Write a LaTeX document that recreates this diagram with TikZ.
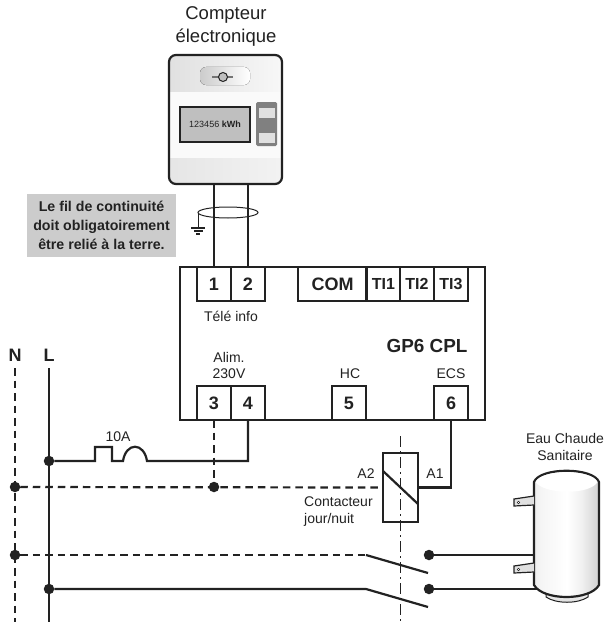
\documentclass[tikz,border=0pt]{standalone}
\usepackage{fontspec}
\setmainfont{Liberation Sans}
\usetikzlibrary{shapes.geometric}
\definecolor{encre}{HTML}{222222}
\pgfdeclarehorizontalshading{ballon}{100bp}{color(0bp)=(black!22); color(30bp)=(black!4); color(50bp)=(white); color(62bp)=(black!6); color(85bp)=(black!28); color(100bp)=(black!55)}
\tikzstyle{fil} = [line width=2.2pt, draw=encre]
\tikzstyle{filpoint} = [fil, dash pattern=on 7.5pt off 5pt]
\tikzstyle{axe} = [line width=1.2pt, draw=encre, dash pattern=on 11pt off 4pt on 2pt off 4pt]
\tikzstyle{borne} = [rectangle, draw=encre, fill=white, line width=2.2pt, minimum width=34pt, minimum height=34pt, inner sep=0pt, outer sep=0pt, text=encre, font=\fontsize{18}{20}\selectfont\bfseries]
\tikzstyle{point} = [circle, fill=encre, minimum size=10.5pt, inner sep=0pt, outer sep=0pt]
\tikzstyle{petit} = [inner sep=0pt, text=encre, align=center, font=\fontsize{14}{17}\selectfont]
\tikzstyle{gras} = [inner sep=0pt, text=encre, font=\fontsize{18}{20}\selectfont\bfseries]
\begin{document}
\begin{tikzpicture}[x=1pt,y=-1pt]%
	\useasboundingbox (0,0) rectangle (606,626);%
	\fill[white] (0,0) rectangle (606,626);%
	\node [inner sep=0pt, text=encre, align=center, font=\fontsize{18.5}{23}\selectfont] (titre) at (226,26) {Compteur\\électronique};%
	% compteur
	\begin{scope}
		\clip[rounded corners=7pt] (169,55) rectangle (282,184);
		\fill[left color=black!12, right color=black!3] (169,55) rectangle (282,92);
		\fill[black!2] (169,92) rectangle (282,158);
		\fill[left color=black!10, right color=black!5] (169,158) rectangle (282,184);
	\end{scope}
	\node [rectangle, rounded corners=7pt, draw=encre, line width=2.2pt, minimum width=113pt, minimum height=129pt, outer sep=0pt] (compteur) at (225.5,119.5) {};%
	\fill[rounded corners=6pt, left color=black!20, right color=white] (200,67) rectangle (250,85);%
	\draw[line width=2.4pt, black!55] (212,77) -- (233,77);%
	\node [circle, draw=encre, fill=black!25, line width=1pt, minimum size=9pt, inner sep=0pt] (vis) at (223,77) {};%
	\node [rectangle, draw=encre, fill=black!25, line width=1.2pt, minimum width=70pt, minimum height=35pt, outer sep=0pt, inner sep=0pt, font=\fontsize{9}{10}\selectfont, text=encre] (ecran) at (215,124.5) {123456 \textbf{kWh}};%
	\fill[rounded corners=1.5pt, black!50] (256,102) rectangle (277,146);%
	\fill[black!12] (259,108) rectangle (275,118);%
	\fill[black!12] (259,133) rectangle (275,143);%
	% module
	\node [rectangle, draw=encre, line width=2.2pt, minimum width=305pt, minimum height=153pt, outer sep=0pt] (gp6) at (332.5,343.5) {};%
	\foreach \nom/\x/\y in {1/214/284, 2/248/284, 3/214/403, 4/248/403, 5/349/403, 6/451/403}
		\node [borne] (b\nom) at (\x,\y) {\nom};%
	\node [borne, minimum width=69pt] (com) at (332.5,284) {COM};%
	\foreach \nom/\x in {1/383.5, 2/417, 3/451}
		\node [borne, font=\fontsize{16}{18}\selectfont\bfseries] (ti\nom) at (\x,284) {TI\nom};%
	\node [petit] (teleinfo) at (231,316) {Télé info};%
	\node [petit, font=\fontsize{14}{16}\selectfont] (alim) at (229,365.5) {Alim.\\230V};%
	\node [petit] (hc) at (350,374) {HC};%
	\node [petit] (ecs) at (451,374) {ECS};%
	\node [gras, font=\fontsize{18.9}{21}\selectfont\bfseries] (nomgp) at (427,346) {GP6 CPL};%
	% fils du compteur
	\draw[fil] (b1.north |- compteur.south) -- (b1.north);%
	\draw[fil] (b2.north |- compteur.south) -- (b2.north);%
	\node [ellipse, draw=encre, line width=1pt, minimum width=60pt, minimum height=11pt, inner sep=0pt, outer sep=0pt] (blindage) at (228,212.5) {};%
	\coordinate (terre) at (198,228);%
	\draw[line width=1pt, encre] (blindage.west) -- (terre);%
	\draw[line width=1.1pt, encre] (191,228) -- (205,228) (194,231) -- (203,231) (196,234) -- (200,234);%
	\node [rectangle, fill=black!20, minimum width=149pt, minimum height=63pt, inner sep=0pt, align=center, text=encre, font=\fontsize{14.2}{19}\selectfont\bfseries] (note) at (101.5,225.5) {Le fil de continuité\\doit obligatoirement\\être relié à la terre.};%
	% reseau
	\node [gras] (labN) at (15,355) {N};%
	\node [gras] (labL) at (49,355) {L};%
	\coordinate (hautN) at (15,368);%
	\coordinate (hautL) at (49,368);%
	\coordinate (basN) at (15,622);%
	\coordinate (basL) at (49,622);%
	\draw[filpoint] (hautN) -- (basN);%
	\draw[fil] (hautL) -- (basL);%
	\node [point] (dL1) at (49,461) {};%
	\node [point] (dN1) at (15,487) {};%
	\node [point] (d3) at (214,487) {};%
	\node [point] (dN2) at (15,555) {};%
	\node [point] (dL2) at (49,589) {};%
	\node [point] (c1) at (429,555) {};%
	\node [point] (c2) at (429,589) {};%
	% fusible
	\draw[fil] (dL1) -- (95,461) -- (95,447) -- (112,447) -- (112,461) -- (123,461) .. controls (126,442) and (144,442) .. (147,461) -- (b4.south |- dL1) -- (b4.south);%
	\node [petit] (fus) at (118,437) {10A};%
	\draw[filpoint] (b3.south) -- (d3);%
	% contacteur
	\draw[axe] (400.5,436) -- (400.5,623);%
	\node [rectangle, draw=encre, line width=2.2pt, minimum width=35pt, minimum height=69pt, outer sep=0pt] (bobine) at (400.5,487.5) {};%
	\draw[fil] (383,471) -- (418,504);%
	\draw[filpoint] (dN1) -- (bobine.west);%
	\draw[fil] (b6.south) |- (bobine.east);%
	\node [petit] (a2) at (366,474) {A2};%
	\node [petit] (a1) at (435,474) {A1};%
	\node [petit, align=left, anchor=west] (contacteur) at (304,511.5) {Contacteur\\jour/nuit};%
	\draw[filpoint] (dN2) -- (366,555);%
	\draw[fil] (366,555) -- (428,573);%
	\draw[fil] (dL2) -- (366,589) -- (428,607);%
	% ballon
	\node [petit] (ecsballon) at (565,447) {Eau Chaude\\Sanitaire};%
	\draw[fil] (c1) -- (534,555);%
	\draw[fil] (c2) -- (537,589);%
	\draw[line width=1pt, encre, bottom color=black!15, top color=black!2] (546,590) -- (546,597) .. controls (556,604) and (578,604) .. (588,597) -- (588,590) -- cycle;%
	\draw[fil, shading=ballon] (534,482) .. controls (540,467) and (593,467) .. (599,482) -- (599,585) .. controls (590,601) and (543,601) .. (534,585) -- cycle;%
	\fill[white] (535.5,482) .. controls (541,469) and (592,469) .. (597.5,482) .. controls (590,495) and (545,495) .. (535.5,482) -- cycle;%
	\foreach \y in {496, 563} {
		\draw[line width=1.2pt, encre, fill=black!12] (534,\y) -- (514,\y+3) -- (514,\y+10) -- (534,\y+9);
		\fill[encre] (518.5,\y+6.5) circle (1.6pt);
		\fill[white] (518.5,\y+6.5) circle (.7pt);
	}%
\end{tikzpicture}
\end{document}
